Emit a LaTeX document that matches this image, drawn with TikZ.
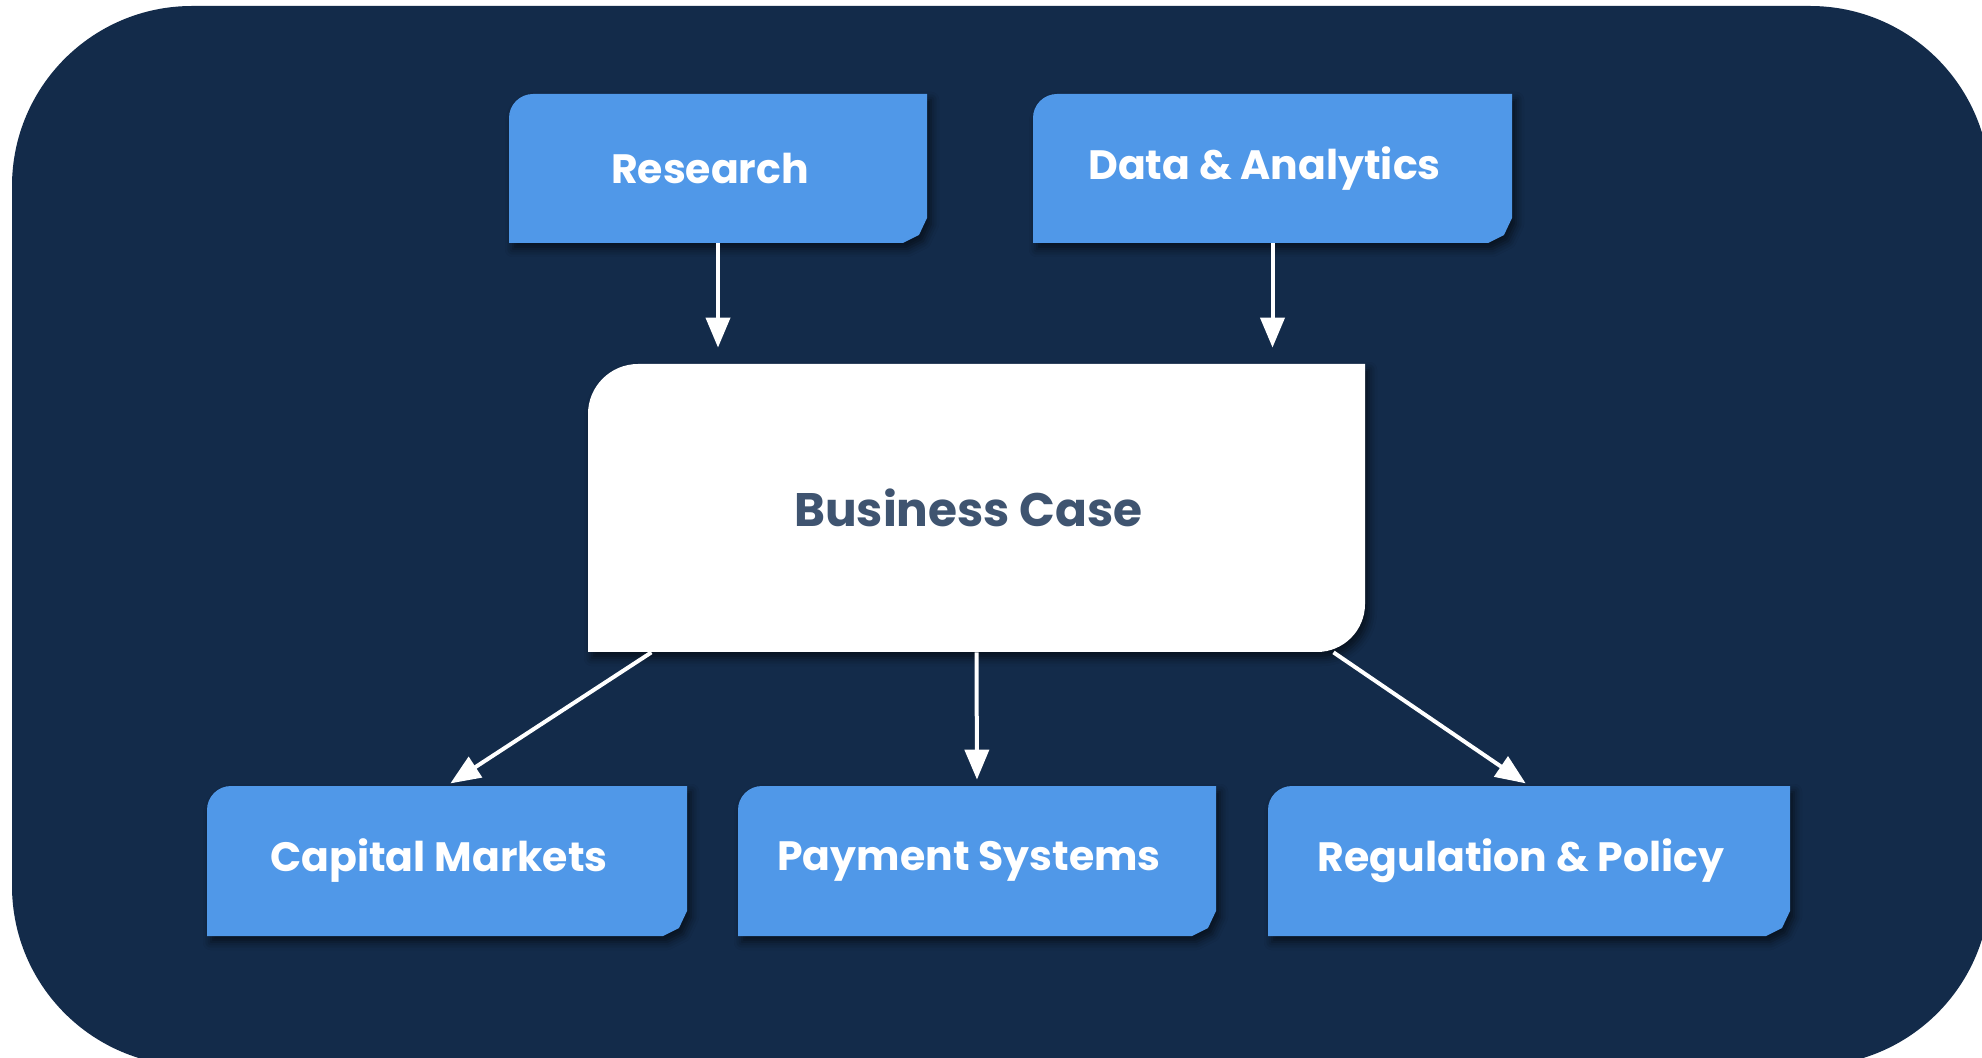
\documentclass[tikz,border=0pt]{standalone}
\usepackage{fontspec}
\setmainfont{Poppins}
\newfontfamily\tilefont{Poppins Bold}
\usetikzlibrary{arrows.meta,shadows.blur,calc}

\definecolor{navy}{RGB}{19,43,74}
\definecolor{tileblue}{RGB}{80,152,232}
\definecolor{slate}{RGB}{63,84,112}

\tikzset{
  tileshadow/.style={blur shadow={shadow xshift=2pt,shadow yshift=-3pt,shadow blur radius=4pt,shadow opacity=60}},
  tilelabel/.style={text=white,font=\tilefont\fontsize{20.5}{25}\selectfont,inner sep=0pt,execute at end node=\kern8pt},
  caselabel/.style={text=slate,font=\tilefont\fontsize{23.5}{28}\selectfont,inner sep=0pt,execute at end node=\kern8pt},
  link/.style={draw=white,line width=2pt,-{Triangle[length=15pt,width=12pt]}}
}

% #1 name, #2 #3 top left corner, #4 #5 width and height (px), #6 text
\newcommand{\tilebox}[6]{%
\fill[tileblue,tileshadow] (#2,#3+24) arc[start angle=180,end angle=270,radius=24] -- (#2+#4,#3) -- (#2+#4,#3+#5-25) -- (#2+#4-8,#3+#5-8) -- (#2+#4-24,#3+#5) -- (#2,#3+#5) -- cycle;
\node[tilelabel,minimum width=#4*0.5pt,minimum height=#5*0.5pt] (#1) at (#2+#4/2,#3+#5/2) {#6};}

\begin{document}
\begin{tikzpicture}[x=0.5pt,y=-0.5pt]
\useasboundingbox (0,0) rectangle (1982,1058);
\fill[navy,rounded corners=90pt] (12,6) rectangle (1990,1066);

% inputs
\tilebox{research}{509}{94}{418}{149}{Research}
\tilebox{data}{1033}{94}{479}{149}{Data \& Analytics}

% central case
\fill[white,tileshadow] (588,652) -- (588,414) arc[start angle=180,end angle=270,radius=50] -- (1365,364) -- (1365,604) arc[start angle=0,end angle=90,radius=48] -- cycle;
\node[caselabel,minimum width=388.5pt,minimum height=144pt] (case) at (976.5,508) {Business Case};

% outputs
\tilebox{markets}{207}{786}{480}{150}{Capital Markets}
\tilebox{payment}{738}{786}{478}{150}{Payment Systems}
\tilebox{policy}{1268}{786}{522}{150}{Regulation \& Policy}

\draw[link,shorten >=8pt] (research.south) -- (research.south |- case.north);
\draw[link,shorten >=8pt] (data.south) -- (data.south |- case.north);
\draw[link,shorten >=2pt] ($(case.south west)!0.082!(case.south east)$) -- (markets.north);
\draw[link,shorten >=3pt] (case.south) -- (payment.north);
\draw[link,shorten >=2pt] ($(case.south west)!0.959!(case.south east)$) -- (policy.north);
\end{tikzpicture}
\end{document}
